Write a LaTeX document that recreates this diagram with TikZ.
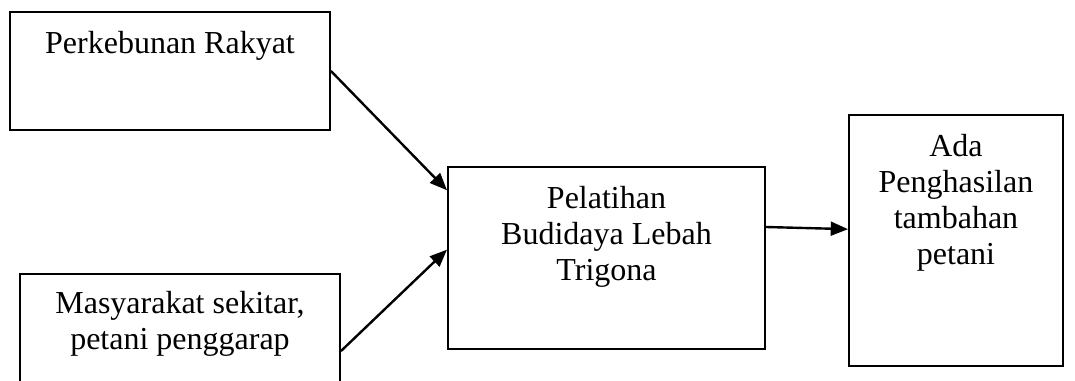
\documentclass[tikz,border=0pt]{standalone}
\usepackage{fontspec}
\setmainfont{Liberation Serif}
\usetikzlibrary{positioning, arrows.meta}

\begin{document}
\begin{tikzpicture}[x=0.375pt, y=-0.375pt, node distance={7.5pt},
		main/.style = {draw, rectangle, line width=0.7pt},
		t/.style = {align=center, inner sep=0pt, anchor=north, font=\fontsize{12pt}{13.5pt}\selectfont},
		a/.style = {-{Triangle[length=6.5pt, width=5.2pt]}, line width=0.9pt}]
		\useasboundingbox (0,0) rectangle (1075,381);
		\node[main] (1) at (170,71) [minimum width=120pt, minimum height=44.25pt] {};
		\node[main] (2) at (180,337) [minimum width=120pt, minimum height=47.25pt] {};
		\node[main] (3) at (606.5,258) [minimum width=118.9pt, minimum height=68.25pt] {};
		\node[main] (4) at (956,240.5) [minimum width=80.25pt, minimum height=94.1pt] {};
		\node[t] (t1) [below=of 1.north] {Perkebunan Rakyat};
		\node[t] (t2) [below=6.5pt of 2.north] {Masyarakat sekitar,\\petani penggarap};
		\node[t] (t3) [below=of 3.north] {Pelatihan\\Budidaya Lebah\\Trigona};
		\node[t] (t4) [below=of 4.north] {Ada\\Penghasilan\\tambahan\\petani};
		\draw[a] (1.east) -- (3.157);
		\draw[a] (2.-5) -- (3.177);
		\draw[a] (3.11) -- (4.174);
	\end{tikzpicture}
\end{document}
